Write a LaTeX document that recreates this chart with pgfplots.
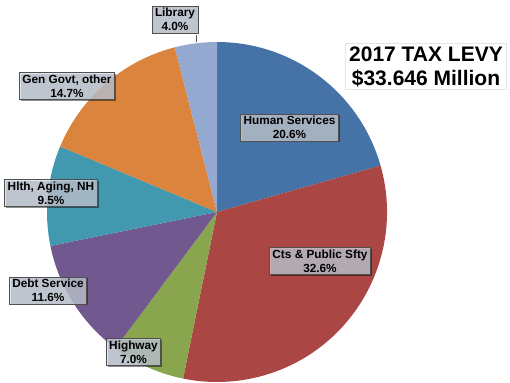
\documentclass[border=0pt]{standalone}
\usepackage{pgfplots}
\pgfplotsset{compat=1.18}
\usepackage{pgfplotstable}
\usepackage{fontspec}
\setmainfont{Liberation Sans}
\usetikzlibrary{shadows}
\definecolor{cHS}{HTML}{4572A7}
\definecolor{cCts}{HTML}{AA4643}
\definecolor{cHwy}{HTML}{89A54E}
\definecolor{cDebt}{HTML}{71588F}
\definecolor{cHlth}{HTML}{4198AF}
\definecolor{cGen}{HTML}{DB843D}
\definecolor{cLib}{HTML}{93A9CF}
\definecolor{boxfill}{HTML}{D4DCE8}
\definecolor{boxdraw}{HTML}{505050}
\tikzset{lbl/.style={draw=boxdraw, fill=boxfill, fill opacity=0.72, text opacity=1,
    line width=0.6pt, align=center, inner xsep=3pt, inner ysep=2.2pt,
    font=\bfseries\fontsize{11.8}{14}\selectfont,
    drop shadow={shadow xshift=1.3pt, shadow yshift=-1.3pt, opacity=0.45, fill=black}}}

\pgfplotstableread{
pct col
20.6 cHS
32.6 cCts
7.0 cHwy
11.6 cDebt
9.5 cHlth
14.7 cGen
4.0 cLib
}\piedata

\begin{document}
\begin{tikzpicture}
\useasboundingbox (0,0) rectangle (510pt,382pt);
\begin{axis}[
  at={(0,0)}, anchor=south west,
  scale only axis, width=510pt, height=382pt,
  xmin=0, xmax=510, ymin=0, ymax=382,
  hide axis, clip=false,
]
\def\startang{90}
\pgfplotsforeachungrouped \i in {0,...,6}{%
  \pgfplotstablegetelem{\i}{pct}\of\piedata \let\p\pgfplotsretval
  \pgfplotstablegetelem{\i}{col}\of\piedata \let\c\pgfplotsretval
  \pgfmathsetmacro\endang{\startang-3.6*\p}%
  \edef\temp{\noexpand\fill[\c] (axis cs:217,170) -- ([shift={(\startang:170pt)}]axis cs:217,170) arc[start angle=\startang, end angle=\endang, radius=170pt] -- cycle;}%
  \temp
  \let\startang\endang
}
\draw[boxdraw, line width=0.6pt] (axis cs:196,347) -- (axis cs:196,340);
\node[lbl] at (axis cs:175,362.5) {Library\\4.0\%};
\node[lbl] at (axis cs:67,296) {Gen Govt, other\\14.7\%};
\node[lbl] at (axis cs:289.5,254.5) {Human Services\\20.6\%};
\node[lbl] at (axis cs:51,189) {Hlth, Aging, NH\\9.5\%};
\node[lbl] at (axis cs:320,121) {Cts \& Public Sfty\\32.6\%};
\node[lbl] at (axis cs:48,91.5) {Debt Service\\11.6\%};
\node[lbl] at (axis cs:133.5,30) {Highway\\7.0\%};
\node[draw=gray!20, fill=white, align=center, inner xsep=3.5pt, inner ysep=3pt,
  font=\bfseries\fontsize{21}{24}\selectfont] at (axis cs:426,315.5) {2017 TAX LEVY\\\$33.646 Million};
\end{axis}
\end{tikzpicture}
\end{document}
